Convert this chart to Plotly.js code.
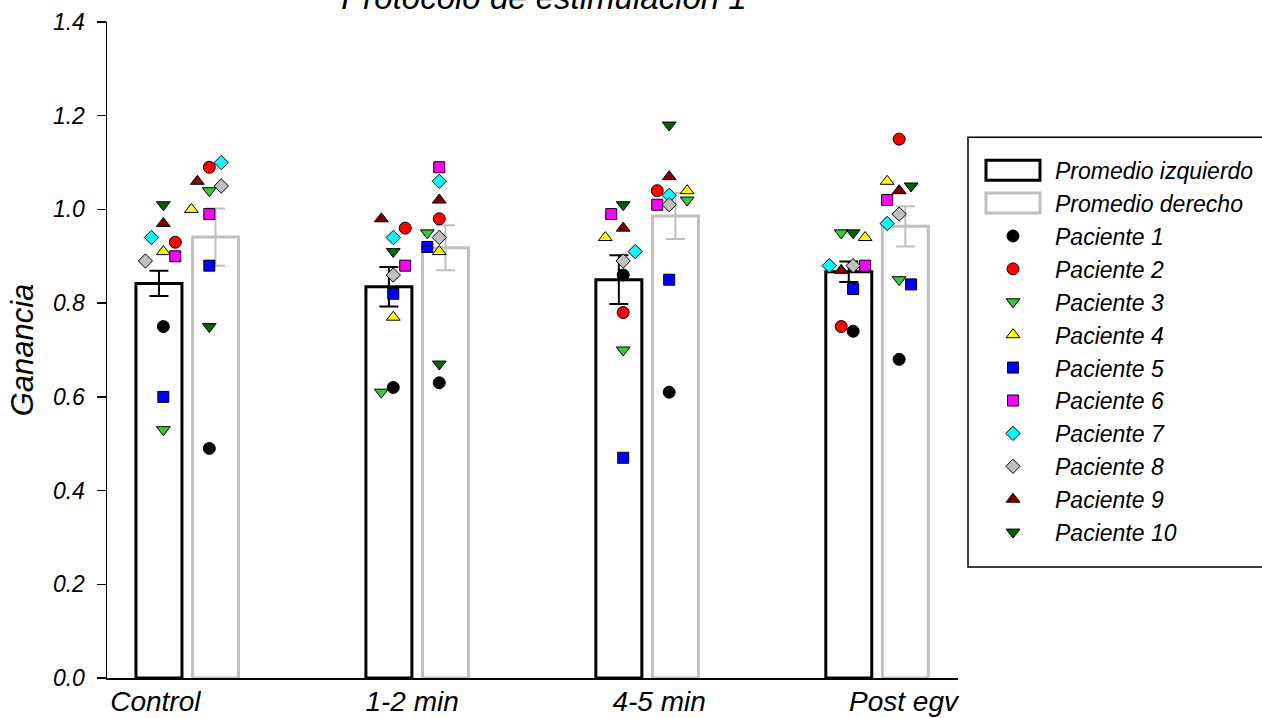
<!DOCTYPE html>
<html>
<head>
<meta charset="utf-8">
<script src="https://cdn.plot.ly/plotly-3.0.1.min.js"></script>
<style>html,body{margin:0;padding:0;background:#fff;}#chart{width:1262px;height:718px;}</style>
</head>
<body>
<div id="chart"></div>
<script>
// ---- data ----
const categories = ['Control', '1-2 min', '4-5 min', 'Post egv'];
const meanLeft  = [0.842, 0.835, 0.850, 0.867];
const errLeft   = [0.027, 0.042, 0.052, 0.022];
const meanRight = [0.941, 0.918, 0.986, 0.964];
const errRight  = [0.061, 0.048, 0.049, 0.043];

const patients = ['Paciente 1','Paciente 2','Paciente 3','Paciente 4','Paciente 5',
                  'Paciente 6','Paciente 7','Paciente 8','Paciente 9','Paciente 10'];
// gain per patient: [Control, 1-2 min, 4-5 min, Post egv]
const leftP1  = [0.75, 0.62, 0.86, 0.74];
const leftP2  = [0.93, 0.96, 0.78, 0.75];
const leftP3  = [0.53, 0.61, 0.70, 0.95];
const leftP4  = [0.91, 0.77, 0.94, 0.94];
const leftP5  = [0.60, 0.82, 0.47, 0.83];
const leftP6  = [0.90, 0.88, 0.99, 0.88];
const leftP7  = [0.94, 0.94, 0.91, 0.88];
const leftP8  = [0.89, 0.86, 0.89, 0.88];
const leftP9  = [0.97, 0.98, 0.96, 0.87];
const leftP10 = [1.01, 0.91, 1.01, 0.95];

const rightP1  = [0.49, 0.63, 0.61, 0.68];
const rightP2  = [1.09, 0.98, 1.04, 1.15];
const rightP3  = [1.04, 0.95, 1.02, 0.85];
const rightP4  = [1.00, 0.91, 1.04, 1.06];
const rightP5  = [0.88, 0.92, 0.85, 0.84];
const rightP6  = [0.99, 1.09, 1.01, 1.02];
const rightP7  = [1.10, 1.06, 1.03, 0.97];
const rightP8  = [1.05, 0.94, 1.01, 0.99];
const rightP9  = [1.06, 1.02, 1.07, 1.04];
const rightP10 = [0.75, 0.67, 1.18, 1.05];

const leftValues  = [leftP1,leftP2,leftP3,leftP4,leftP5,leftP6,leftP7,leftP8,leftP9,leftP10];
const rightValues = [rightP1,rightP2,rightP3,rightP4,rightP5,rightP6,rightP7,rightP8,rightP9,rightP10];

// ---- positions / styles (not data) ----
// horizontal nudges (in marker steps) so overlapping symbols stay visible
const jitterLeft = [[0,0,0,0],[1,1,0,-1],[0,-1,0,-1],[0,0,-1.5,1],[0,0,0,0],
                    [1,1,-1,1],[-1,0,1,-2],[-1.5,0,0,0],[0,-1,0,-1],[0,0,0,0]];
const jitterRight = [[0,0,0,0],[0,0,-1,0],[0,-1,1.5,0],[-1.5,0,1.5,-1],[0,-1,0,1],
                     [0,0,-1,-1],[1,0,0,-1],[1,0,0,0],[-1,0,0,0],[0,0,0,1]];
const labelShift = [-0.139, -0.022, 0.052, 0.115];
const barShift = 0.123, barWidth = 0.2;
const colLeft = -0.104, colRight = 0.096, step = 0.052;

const symbols = ['circle','circle','triangle-down','triangle-up','square','square',
                 'diamond','diamond','triangle-up','triangle-down'];
const colors = ['#000000','#ff0000','#33cc33','#ffff00','#0000ff','#ff00ff',
                '#00ffff','#c0c0c0','#800000','#006400'];
const sizes = [12,12,12,12,11,11,11,11,12,12];

const FONT = 'Liberation Sans, Arial, sans-serif';
const idx = categories.map((c,i)=>i);

const traces = [
  {
    type:'bar', name:'Promedio izquierdo',
    x: idx.map(i=>i - barShift), y: meanLeft, width: barWidth,
    marker:{color:'#ffffff', line:{color:'#000000', width:3}},
    error_y:{type:'data', array: errLeft, color:'#000000', thickness:2, width:9.5},
    hoverinfo:'y'
  },
  {
    type:'bar', name:'Promedio derecho',
    x: idx.map(i=>i + barShift), y: meanRight, width: barWidth,
    marker:{color:'#ffffff', line:{color:'#c0c0c0', width:3}},
    error_y:{type:'data', array: errRight, color:'#c0c0c0', thickness:2, width:9.5},
    hoverinfo:'y'
  }
];

patients.forEach((name,p)=>{
  const xs = [], ys = [];
  idx.forEach(g=>{
    xs.push(g + colLeft + jitterLeft[p][g]*step); ys.push(leftValues[p][g]);
  });
  idx.forEach(g=>{
    xs.push(g + colRight + jitterRight[p][g]*step); ys.push(rightValues[p][g]);
  });
  traces.push({
    type:'scatter', mode:'markers', name:name, x:xs, y:ys, cliponaxis:false,
    marker:{symbol:symbols[p], color:colors[p], size:sizes[p],
            line:{color:'#000000', width:1}}
  });
});

const plotL = 106.7, plotR = 958, plotT = 21.7, plotB = 678;
const pw = plotR - plotL, ph = plotB - plotT;
const px2x = v => (v - plotL)/pw;
const px2y = v => (plotB - v)/ph;

const layout = {
  width:1262, height:718,
  paper_bgcolor:'#ffffff', plot_bgcolor:'#ffffff',
  margin:{l:plotL, r:1262-plotR, t:plotT, b:718-plotB, autoexpand:false},
  barmode:'overlay',
  showlegend:true,
  font:{family:FONT, color:'#000000'},
  title:{text:'Protocolo de estimulación 1', font:{family:FONT, size:33, style:'italic', color:'#000'},
         xref:'container', yref:'container', x:544/1262, xanchor:'center', y:1-9/718, yanchor:'bottom'},
  xaxis:{
    type:'linear', range:[-0.349, 3.352],
    tickvals: idx.map(i=>i + labelShift[i]), ticktext: categories,
    ticks:'', showline:true, linecolor:'#000', linewidth:2,
    showgrid:false, zeroline:false,
    tickfont:{family:FONT, size:28, style:'italic', color:'#000'},
    ticklabelstandoff:-3, fixedrange:true
  },
  yaxis:{
    range:[0,1.4], dtick:0.2, tick0:0, tickformat:'.1f',
    ticks:'outside', ticklen:9, tickwidth:1.5, tickcolor:'#000',
    showline:true, linecolor:'#000', linewidth:1.5,
    showgrid:false, zeroline:false,
    tickfont:{family:FONT, size:23, style:'italic', color:'#000'},
    ticklabelstandoff:7,
    title:{text:'Ganancia', font:{family:FONT, size:31, style:'italic', color:'#000'}, standoff:10},
    fixedrange:true
  },
  legend:{
    x: px2x(971), xanchor:'left', y: px2y(148.5), yanchor:'top',
    bgcolor:'rgba(0,0,0,0)', borderwidth:0,
    font:{family:FONT, size:23, style:'italic', color:'#000'},
    itemwidth:74, tracegroupgap:0, traceorder:'normal'
  },
  shapes:[{
    type:'rect', xref:'paper', yref:'paper',
    x0: px2x(968), x1: px2x(1300), y0: px2y(567), y1: px2y(137),
    line:{color:'#000', width:1.5}, fillcolor:'rgba(0,0,0,0)', layer:'above'
  }]
};

Plotly.newPlot('chart', traces, layout, {displayModeBar:false, staticPlot:true}).then(gd=>{
  const items = gd.querySelectorAll('.legend .traces');
  [0,1].forEach(k=>{
    if(!items[k]) return;
    const path = items[k].querySelector('.legendpoints path');
    if(path){ path.setAttribute('d','M27,10H-27V-10H27Z'); path.style.strokeWidth = '3px'; }
  });
});
</script>
</body>
</html>
